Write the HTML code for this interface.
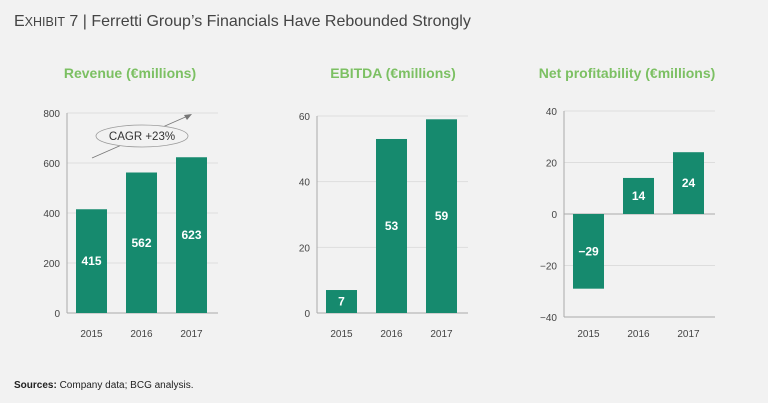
<!DOCTYPE html>
<html><head><meta charset="utf-8"><style>
body{margin:0;background:#f2f2f2;font-family:"Liberation Sans",sans-serif;}
svg{display:block}
</style></head><body>
<svg width="768" height="403" id="s">
<text x="14" y="26" font-size="16" fill="#444">E<tspan font-size="12.5">XHIBIT</tspan> 7 | Ferretti Group’s Financials Have Rebounded Strongly</text>
<text x="14" y="388" font-size="10" fill="#222"><tspan font-weight="bold">Sources:</tspan> Company data; BCG analysis.</text>
</svg>
<script>
const years=["2015","2016","2017"];
const revenue=[415,562,623];
const ebitda=[7,53,59];
const netProfit=[-29,14,24];
const revTicks=[0,200,400,600,800];
const ebTicks=[0,20,40,60];
const netTicks=[-40,-20,0,20,40];
const NS="http://www.w3.org/2000/svg";
const svg=document.getElementById('s');
function el(t,a,txt){const e=document.createElementNS(NS,t);for(const k in a)e.setAttribute(k,a[k]);if(txt!==undefined)e.textContent=txt;svg.appendChild(e);return e;}
function chart(name,title,titleX,axisX,top,bottom,min,max,ticks,vals){
  const y=v=>bottom-(v-min)/(max-min)*(bottom-top);
  const t=el('text',{x:titleX,y:78,'font-size':14,'font-weight':'bold',fill:'#7cc063','text-anchor':'middle'},title);
  
  
  ticks.forEach(v=>{
    const g=el('line',{x1:axisX,x2:axisX+151,y1:y(v),y2:y(v),stroke:v===0||v===min?'#aaa':'#ddd','stroke-width':1});
    
    
    const l=el('text',{x:axisX-7,y:y(v)+4,'font-size':10,fill:'#444','text-anchor':'end'},v<0?'−'+(-v):String(v));
    
    
  });
  const ax=el('line',{x1:axisX,x2:axisX,y1:top,y2:bottom,stroke:'#aaa'});
  
  
  vals.forEach((v,i)=>{
    const bx=axisX+9+i*50;
    const y0=y(0),yv=y(v);
    const r=el('rect',{x:bx,y:Math.min(y0,yv),width:31,height:Math.abs(y0-yv),fill:'#168a6e'});
    
    
    const ly=(y0+yv)/2+4;
    const vl=el('text',{x:bx+15.5,y:ly,'font-size':12,'font-weight':'bold',fill:'#fff','text-anchor':'middle'},v<0?'−'+(-v):String(v));
    
    
    const xl=el('text',{x:bx+15.5,y:337,'font-size':10,fill:'#444','text-anchor':'middle'},years[i]);
    
    
  });
}
chart('revenue','Revenue (€millions)',130,67,113,313,0,800,revTicks,revenue);
chart('ebitda','EBITDA (€millions)',393,317,116,313,0,60,ebTicks,ebitda);
chart('net-profit','Net profitability (€millions)',627,564,111,317,-40,40,netTicks,netProfit);
const ar=el('line',{x1:92,y1:158,x2:190,y2:115,stroke:'#777','stroke-width':0.8});


const ah=el('polygon',{points:'192,114 184,115 187,120',fill:'#777'});


const ce=el('ellipse',{cx:142,cy:136,rx:46,ry:11,fill:'#f2f2f2',stroke:'#999','stroke-width':0.8});


const ct=el('text',{x:142,y:140,'font-size':11.5,fill:'#333','text-anchor':'middle'},'CAGR +23%');


</script>
</body></html>
